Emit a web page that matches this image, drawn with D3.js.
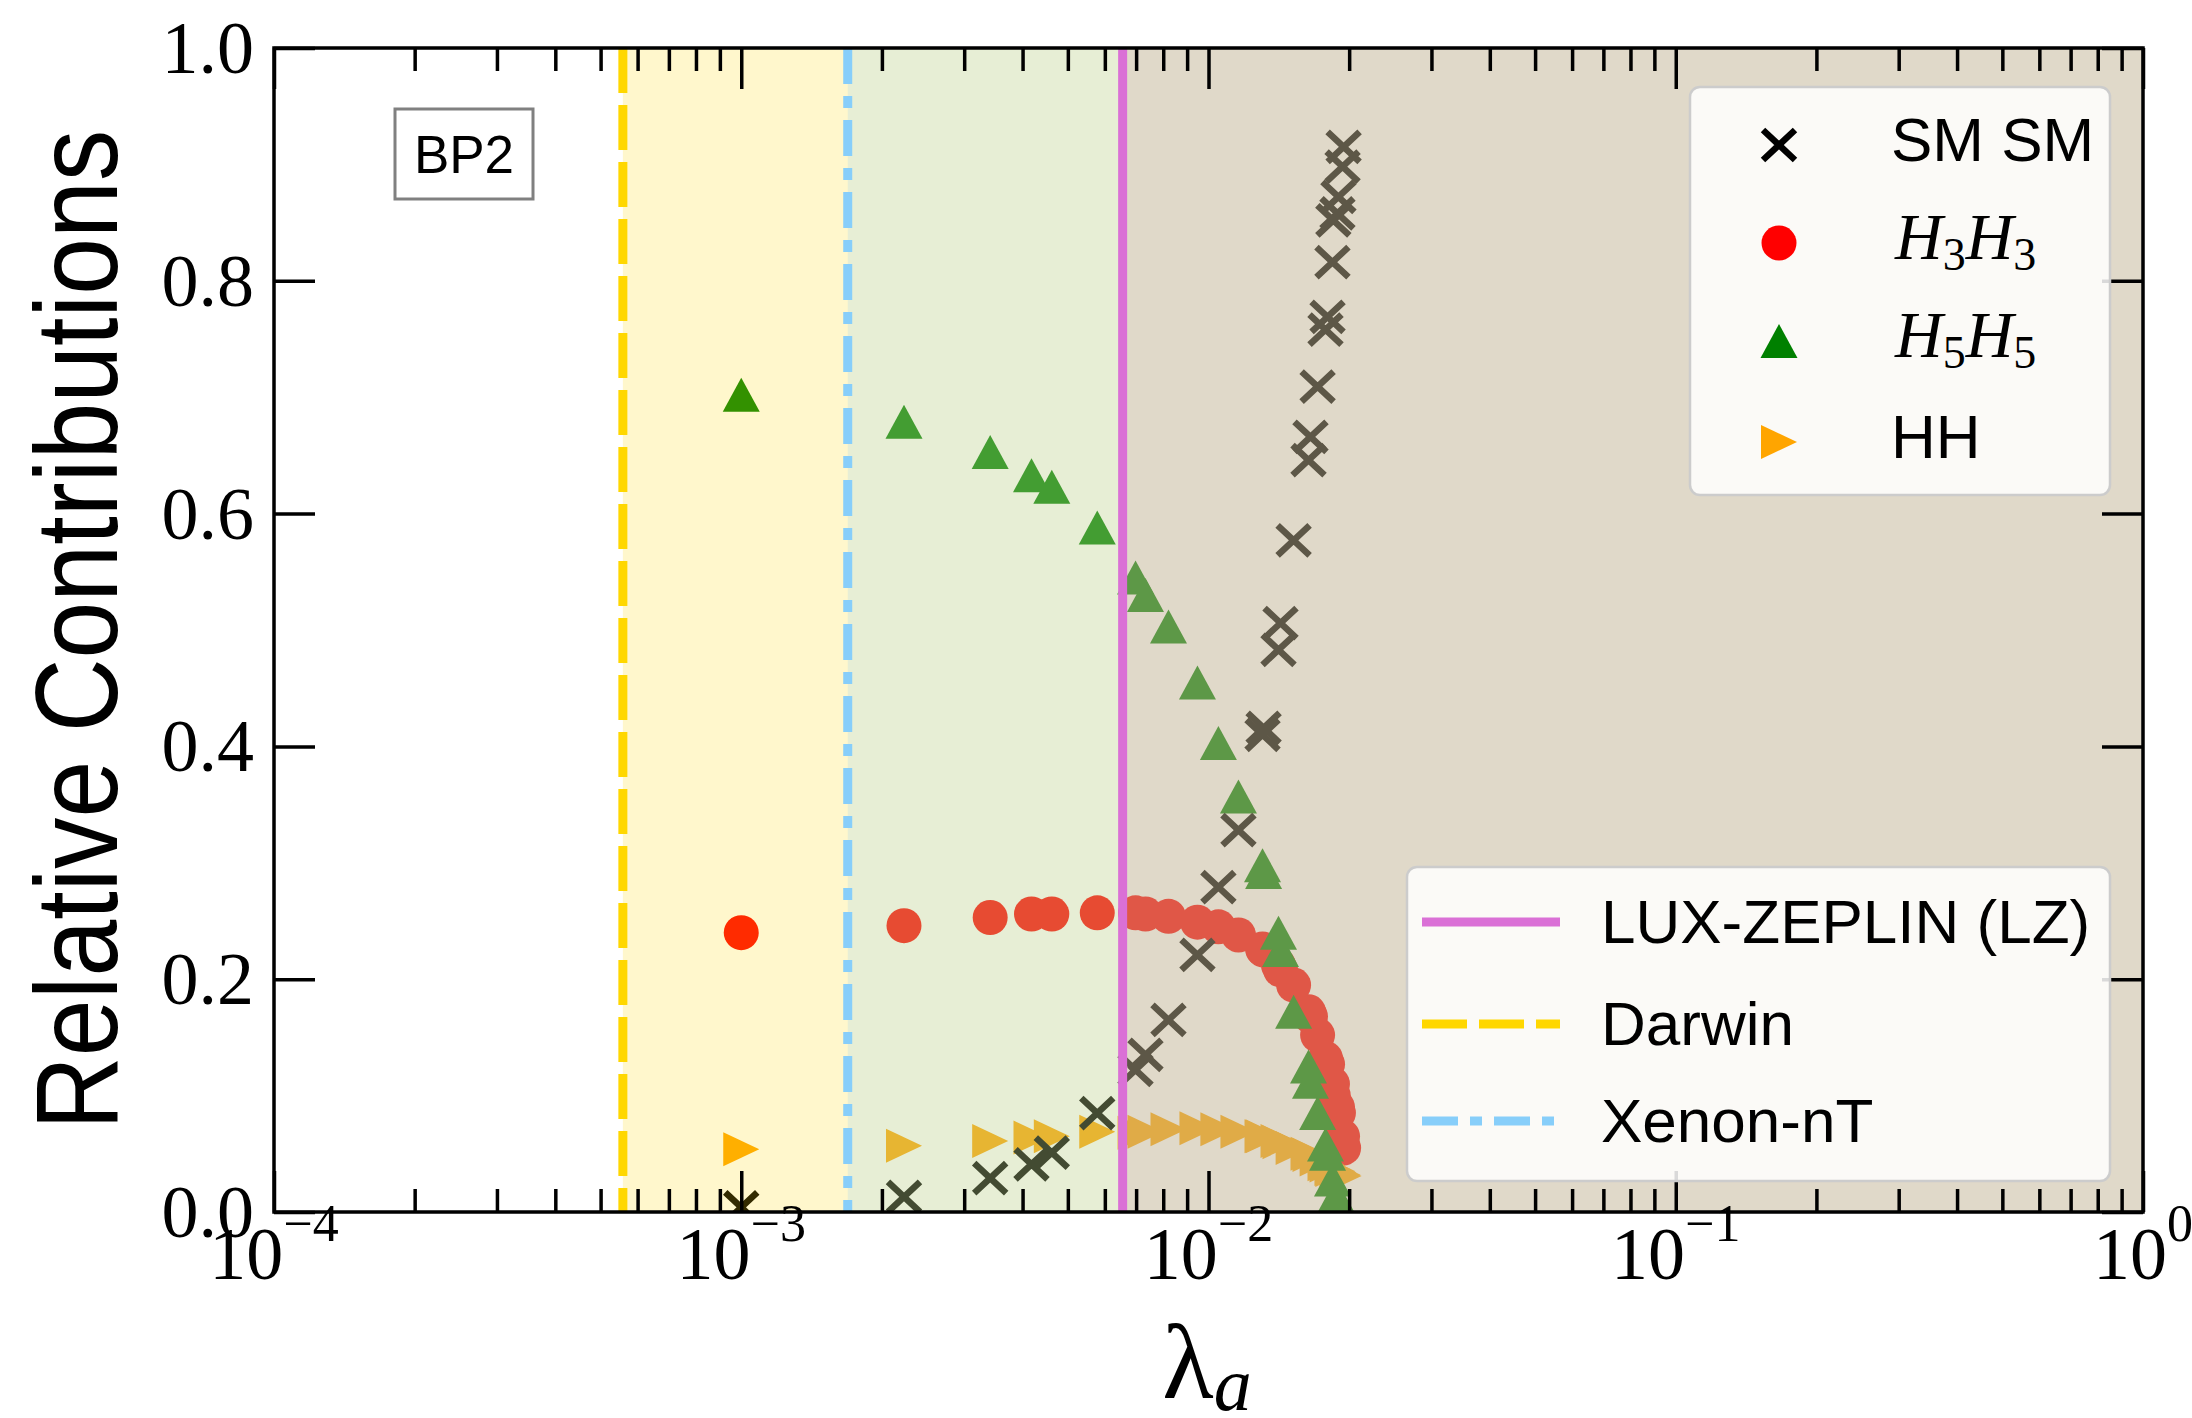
<!DOCTYPE html>
<html>
<head>
<meta charset="utf-8">
<script src="https://cdn.jsdelivr.net/npm/d3@7"></script>
<style>
  body { margin: 0; background: #fff; }
</style>
</head>
<body>
<svg width="2192" height="1418"></svg>
<script>
// lambda_a scan (BP2) and relative contribution of each channel
const lambdaA = [1.00e-3, 2.23e-3, 3.41e-3, 4.18e-3, 4.62e-3, 5.78e-3,
  6.98e-3, 7.33e-3, 8.21e-3, 9.47e-3, 1.050e-2, 1.159e-2, 1.305e-2, 1.312e-2,
  1.412e-2, 1.426e-2, 1.521e-2, 1.637e-2, 1.653e-2, 1.712e-2, 1.780e-2, 1.798e-2,
  1.842e-2, 1.850e-2, 1.888e-2, 1.897e-2, 1.936e-2, 1.946e-2];
const smsm = [0.004, 0.013, 0.029, 0.041, 0.051, 0.085,
  0.122, 0.135, 0.165, 0.221, 0.279, 0.328, 0.410, 0.416,
  0.483, 0.506, 0.577, 0.646, 0.666, 0.709, 0.758, 0.769,
  0.816, 0.852, 0.858, 0.872, 0.898, 0.915];
const h3h3 = [0.240, 0.246, 0.253, 0.256, 0.256, 0.257,
  0.257, 0.256, 0.254, 0.249, 0.245, 0.238, 0.226, 0.225,
  0.212, 0.208, 0.195, 0.172, 0.168, 0.152, 0.132, 0.127,
  0.110, 0.100, 0.090, 0.085, 0.065, 0.055];
const h5h5 = [0.702, 0.679, 0.653, 0.633, 0.623, 0.588,
  0.545, 0.530, 0.503, 0.455, 0.403, 0.357, 0.298, 0.292,
  0.240, 0.225, 0.172, 0.125, 0.112, 0.085, 0.058, 0.050,
  0.028, 0.010, 0.012, 0.005, 0.003, 0.000];
const hh = [0.054, 0.057, 0.061, 0.064, 0.065, 0.069,
  0.068, 0.069, 0.071, 0.072, 0.071, 0.069, 0.065, 0.065,
  0.061, 0.060, 0.055, 0.050, 0.049, 0.045, 0.041, 0.040,
  0.037, 0.036, 0.035, 0.034, 0.032, 0.031];

// experimental reach in lambda_a
const limitNames = ['LUX-ZEPLIN (LZ)', 'Darwin', 'Xenon-nT'];
const limitValues = [6.55e-3, 5.58e-4, 1.69e-3];

const xMajor = [1e-4, 1e-3, 1e-2, 1e-1, 1];
const xExponents = ['−4', '−3', '−2', '−1', '0'];
const yTicks = [0, 0.2, 0.4, 0.6, 0.8, 1.0];

const svg = d3.select('svg');
const pLeft = 274, pRight = 2143, pTop = 48, pBottom = 1212;

const x = d3.scaleLog().domain([1e-4, 1]).range([pLeft, pRight]);
const y = d3.scaleLinear().domain([0, 1]).range([pBottom, pTop]);

const serif = "'Liberation Serif', 'Times New Roman', serif";
const sans = "'Liberation Sans', Arial, sans-serif";

svg.append('rect').attr('width', 2192).attr('height', 1418).attr('fill', '#fff');

svg.append('clipPath').attr('id', 'plot')
  .append('rect').attr('x', pLeft).attr('y', pTop)
  .attr('width', pRight - pLeft).attr('height', pBottom - pTop);

// marker shapes
const tri = 'M0,-17L18.5,17L-18.5,17Z';
const triRight = 'M18,0L-18,-17L-18,17Z';
function cross(g, cx, cy, color) {
  g.append('path')
    .attr('d', `M${cx - 16},${cy - 15}L${cx + 16},${cy + 15}M${cx - 16},${cy + 15}L${cx + 16},${cy - 15}`)
    .attr('stroke', color).attr('stroke-width', 6.5).attr('fill', 'none');
}

const plot = svg.append('g').attr('clip-path', 'url(#plot)');

const pts = lambdaA.map((l, i) => ({l: l, sm: smsm[i], h3: h3h3[i], h5: h5h5[i], hh: hh[i]}));

plot.selectAll('circle.h3').data(pts).join('circle')
  .attr('cx', d => x(d.l)).attr('cy', d => y(d.h3)).attr('r', 17.5)
  .attr('fill', '#ff0000');
plot.selectAll('path.hh').data(pts).join('path').attr('class', 'hh')
  .attr('d', triRight)
  .attr('transform', d => `translate(${x(d.l)},${y(d.hh)})`)
  .attr('fill', '#ffa500');
plot.selectAll('path.h5').data(pts).join('path').attr('class', 'h5')
  .attr('d', tri)
  .attr('transform', d => `translate(${x(d.l)},${y(d.h5)})`)
  .attr('fill', '#008000');
pts.forEach(d => cross(plot, x(d.l), y(d.sm), '#000'));

// shaded reach of each experiment (drawn over the points, like axvspan)
const spanOrder = [1, 2, 0];
const spanColors = ['rgb(200,137,156)', 'gold', 'lightskyblue'];
spanOrder.forEach(i => {
  plot.append('rect')
    .attr('x', x(limitValues[i])).attr('y', pTop)
    .attr('width', x(1) - x(limitValues[i])).attr('height', pBottom - pTop)
    .attr('fill', spanColors[i]).attr('fill-opacity', 0.2);
});

const lineColors = ['orchid', 'gold', 'lightskyblue'];
const lineDash = [null, '45,12', '36,12,12,12'];
spanOrder.forEach(i => {
  plot.append('line')
    .attr('x1', x(limitValues[i])).attr('x2', x(limitValues[i]))
    .attr('y1', pTop).attr('y2', pBottom)
    .attr('stroke', lineColors[i]).attr('stroke-width', 9)
    .attr('stroke-dasharray', lineDash[i]);
});

// ticks, inward on all four sides
const xMinor = [];
xMajor.slice(0, -1).forEach(m => { for (let k = 2; k <= 9; k++) xMinor.push(m * k); });

function ticks(axisFn, scale, vals, size, tx, ty) {
  const g = svg.append('g').attr('transform', `translate(${tx},${ty})`)
    .call(axisFn(scale).tickValues(vals).tickSize(size).tickSizeOuter(0).tickFormat(''));
  g.select('.domain').remove();
  g.selectAll('line').attr('stroke', '#000').attr('stroke-width', 3.5);
}
ticks(d3.axisBottom, x, xMajor, -41, 0, pBottom);
ticks(d3.axisBottom, x, xMinor, -23, 0, pBottom);
ticks(d3.axisTop, x, xMajor, -41, 0, pTop);
ticks(d3.axisTop, x, xMinor, -23, 0, pTop);
ticks(d3.axisLeft, y, yTicks, -41, pLeft, 0);
ticks(d3.axisRight, y, yTicks, -41, pRight, 0);

svg.append('rect').attr('x', pLeft).attr('y', pTop)
  .attr('width', pRight - pLeft).attr('height', pBottom - pTop)
  .attr('fill', 'none').attr('stroke', '#000').attr('stroke-width', 3.5);

// tick labels
yTicks.forEach(v => {
  svg.append('text')
    .attr('x', 254).attr('y', y(v) + 25)
    .attr('text-anchor', 'end')
    .style('font-family', serif).style('font-size', '74px')
    .text(v.toFixed(1));
});
xMajor.forEach((v, i) => {
  const t = svg.append('text')
    .attr('x', x(v)).attr('y', 1279)
    .attr('text-anchor', 'middle')
    .style('font-family', serif).style('font-size', '74px');
  t.append('tspan').text('10');
  t.append('tspan').attr('dy', -38).style('font-size', '52px').text(xExponents[i]);
});

// axis titles
const xl = svg.append('text').attr('x', 1207).attr('y', 1398)
  .attr('text-anchor', 'middle').style('font-family', serif).style('font-size', '106px');
xl.append('tspan').text('λ');
xl.append('tspan').attr('dy', 12).style('font-size', '76px').style('font-style', 'italic').text('a');

svg.append('text')
  .attr('transform', 'translate(117,630) rotate(-90)')
  .attr('text-anchor', 'middle')
  .attr('textLength', 1000).attr('lengthAdjust', 'spacingAndGlyphs')
  .style('font-family', sans).style('font-size', '116px')
  .text('Relative Contributions');

// BP2 tag
svg.append('rect').attr('x', 395).attr('y', 109).attr('width', 138).attr('height', 90)
  .attr('fill', '#fff').attr('stroke', '#808080').attr('stroke-width', 3);
svg.append('text').attr('x', 464).attr('y', 173).attr('text-anchor', 'middle')
  .style('font-family', sans).style('font-size', '53px').text('BP2');

// legend: channels
const leg1 = svg.append('g');
leg1.append('rect').attr('x', 1690).attr('y', 87).attr('width', 420).attr('height', 408)
  .attr('rx', 10).attr('fill', '#fff').attr('fill-opacity', 0.85)
  .attr('stroke', '#cccccc').attr('stroke-width', 2.5);
const rowY = [145, 243, 341, 442];
const mx = 1779;
cross(leg1, mx, rowY[0], '#000');
leg1.append('circle').attr('cx', mx).attr('cy', rowY[1]).attr('r', 17.5).attr('fill', '#ff0000');
leg1.append('path').attr('d', tri).attr('transform', `translate(${mx},${rowY[2]})`).attr('fill', '#008000');
leg1.append('path').attr('d', triRight).attr('transform', `translate(${mx},${rowY[3]})`).attr('fill', '#ffa500');

leg1.append('text').attr('x', 1891).attr('y', rowY[0] + 16)
  .style('font-family', sans).style('font-size', '62px').text('SM SM');
['3', '5'].forEach((n, k) => {
  const t = leg1.append('text').attr('x', 1895).attr('y', rowY[1 + k] + 16)
    .style('font-family', serif).style('font-size', '66px');
  t.append('tspan').style('font-style', 'italic').text('H');
  t.append('tspan').attr('dy', 11).style('font-size', '46px').text(n);
  t.append('tspan').attr('dy', -11).style('font-style', 'italic').text('H');
  t.append('tspan').attr('dy', 11).style('font-size', '46px').text(n);
});
leg1.append('text').attr('x', 1891).attr('y', rowY[3] + 16)
  .style('font-family', sans).style('font-size', '62px').text('HH');

// legend: experiments
const leg2 = svg.append('g');
leg2.append('rect').attr('x', 1407).attr('y', 867).attr('width', 703).attr('height', 314)
  .attr('rx', 10).attr('fill', '#fff').attr('fill-opacity', 0.85)
  .attr('stroke', '#cccccc').attr('stroke-width', 2.5);
const row2Y = [922, 1024, 1121];
limitNames.forEach((name, i) => {
  leg2.append('line').attr('x1', 1422).attr('x2', 1560)
    .attr('y1', row2Y[i]).attr('y2', row2Y[i])
    .attr('stroke', lineColors[i]).attr('stroke-width', 9)
    .attr('stroke-dasharray', lineDash[i]);
  leg2.append('text').attr('x', 1601).attr('y', row2Y[i] + 21)
    .style('font-family', sans).style('font-size', '62px').text(name);
});
</script>
</body>
</html>
